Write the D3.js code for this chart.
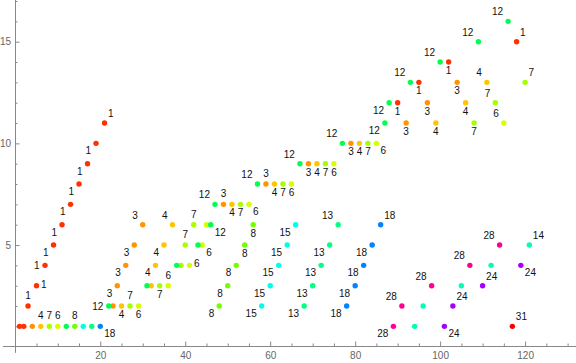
<!DOCTYPE html>
<html lang="en">
<head>
<meta charset="UTF-8" />
<title>Labeled points</title>
<script src="https://d3js.org/d3.v7.min.js"></script>
<style>
  body { margin: 0; background: #fff; }
  svg { display: block; font-family: 'Liberation Sans', Arial, sans-serif; }
  .tick text { fill: #666; font-size: 10px; }
  .tick line { stroke: #888; }
</style>
</head>
<body>
<div id="chart"></div>
<script>
// tick labels
const xTicks = [20, 40, 60, 80, 100, 120];
const yTicks = [5, 10, 15];

// each series: [x, y] points, and where its callout sits ("" = no callout)
const pts1 = [[1,1],[2,1],[3,2],[5,3],[7,4],[9,5],[11,6],[13,7],[15,8],[17,9],[19,10],[21,11],[90,12],[95,13],[102,14],[118,15]];
const at1  = ["","","n","e","w","sw","sw","sw","sw","sw","sw","ne","s","s","s","ne"];

const pts3 = [[4,1],[23,2],[24,3],[26,4],[28,5],[30,6],[49,7],[59,8],[69,9],[79,10],[92,11],[97,12],[104,13]];
const at3  = ["","","sw","sw","sw","nw","n","n","s","s","s","s","s"];

const pts4 = [[6,1],[25,2],[32,3],[33,4],[35,5],[37,6],[51,7],[61,8],[71,9],[81,10],[99,11],[106,12],[111,13]];
const at4  = ["n","s","","sw","sw","nw","s","s","s","s","s","s","nw"];

const pts7 = [[8,1],[27,2],[34,3],[39,4],[40,5],[42,6],[53,7],[63,8],[73,9],[83,10],[108,11],[113,12],[120,13]];
const at7  = ["n","n","s","","n","n","s","s","s","s","s","nw","ne"];

const pts6 = [[10,1],[29,2],[36,3],[41,4],[44,5],[45,6],[55,7],[65,8],[75,9],[85,10],[115,11]];
const at6  = ["n","s","n","e","se","","se","s","s","se","nw"];

const pts12 = [[12,1],[22,2],[31,3],[38,4],[43,5],[46,6],[47,7],[57,8],[67,9],[77,10],[87,11],[88,12],[93,13],[100,14],[109,15],[116,16]];
const at12  = ["","w","","","","se","nw","nw","nw","nw","sw","sw","nw","nw","nw","nw"];

const pts8 = [[14,1],[48,2],[50,3],[52,4],[54,5],[56,6]];
const at8  = ["n","sw","sw","sw","s","s"];

const pts15 = [[16,1],[58,2],[60,3],[62,4],[64,5],[66,6]];
const at15  = ["","sw","sw","sw","sw","sw"];

const pts13 = [[18,1],[68,2],[70,3],[72,4],[74,5],[76,6]];
const at13  = ["","sw","sw","sw","sw","nw"];

const pts18 = [[20,1],[78,2],[80,3],[82,4],[84,5],[86,6]];
const at18  = ["se","sw","sw","sw","sw","ne"];

const pts28 = [[89,1],[91,2],[98,3],[107,4],[114,5]];
const at28  = ["sw","nw","nw","nw","nw"];

const pts14 = [[94,1],[96,2],[105,3],[112,4],[121,5]];
const at14  = ["","","","","ne"];

const pts24 = [[101,1],[103,2],[110,3],[119,4]];
const at24  = ["se","ne","ne","se"];

const pts31 = [[117,1]];
const at31  = ["ne"];

const seriesLabels = [1, 3, 4, 7, 6, 12, 8, 15, 13, 18, 28, 14, 24, 31];
const seriesPts = [pts1, pts3, pts4, pts7, pts6, pts12, pts8, pts15, pts13, pts18, pts28, pts14, pts24, pts31];
const seriesAt = [at1, at3, at4, at7, at6, at12, at8, at15, at13, at18, at28, at14, at24, at31];

// flat table for drawing
const points = [];
seriesLabels.forEach((lab, i) => {
  seriesPts[i].forEach((p, j) => {
    points.push({ x: p[0], y: p[1], label: lab, at: seriesAt[i][j] });
  });
});

const width = 576, height = 363;

const svg = d3.select("#chart")
  .append("svg")
  .attr("width", width)
  .attr("height", height);

const x = d3.scaleLinear().domain([0, 120]).range([15.3, 525.1]);
const y = d3.scaleLinear().domain([0, 15]).range([346.7, 41.7]);

// colour from label, hue = label / 31
const color = lab => d3.hsl(lab / 31 * 360, 1, 0.5).toString();

const ax = Math.round(x(0));   // y axis pixel column
const ay = Math.floor(y(0));   // x axis pixel row

// axis lines span the plot range
svg.append("line")
  .attr("x1", x(-2.9)).attr("x2", x(132))
  .attr("y1", ay + 0.5).attr("y2", ay + 0.5)
  .attr("stroke", "#888");
svg.append("line")
  .attr("x1", ax + 0.5).attr("x2", ax + 0.5)
  .attr("y1", y(-0.3)).attr("y2", y(17.2))
  .attr("stroke", "#888");

const xMinor = d3.range(5, 135, 5).filter(v => v % 20 !== 0);
const yMinor = d3.range(1, 18).filter(v => v % 5 !== 0);

const gx = svg.append("g").attr("transform", `translate(0,${ay})`);
gx.call(d3.axisBottom(x).tickValues(xTicks).tickSize(-4.5).tickPadding(6));
gx.append("g").call(d3.axisBottom(x).tickValues(xMinor).tickSize(-2.5).tickFormat(""));
gx.selectAll(".domain").remove();

const gy = svg.append("g").attr("transform", `translate(${ax},0)`);
gy.call(d3.axisLeft(y).tickValues(yTicks).tickSize(-4.5).tickPadding(4));
gy.append("g").call(d3.axisLeft(y).tickValues(yMinor).tickSize(-2.5).tickFormat(""));
gy.selectAll(".domain").remove();
svg.selectAll(".tick text").attr("font-family", null).attr("font-size", null);

// points
svg.append("g")
  .selectAll("circle")
  .data(points)
  .join("circle")
  .attr("cx", d => x(d.x))
  .attr("cy", d => y(d.y))
  .attr("r", 2.7)
  .attr("fill", d => color(d.label));

// callout placement around a point
const spot = {
  n:  { dx: 0,    dy: -10.5, anchor: "middle" },
  s:  { dx: 0,    dy: 8.5,   anchor: "middle" },
  e:  { dx: 4.5,  dy: -1.5,  anchor: "start" },
  w:  { dx: -5.5, dy: 0,     anchor: "end" },
  ne: { dx: 3.5,  dy: -9.5,  anchor: "start" },
  nw: { dx: -5,   dy: -9.5,  anchor: "end" },
  se: { dx: 4,    dy: 7.5,   anchor: "start" },
  sw: { dx: -5,   dy: 7.5,   anchor: "end" }
};

svg.append("g")
  .selectAll("text")
  .data(points.filter(d => d.at))
  .join("text")
  .attr("x", d => x(d.x) + spot[d.at].dx)
  .attr("y", d => y(d.y) + spot[d.at].dy)
  .attr("dy", "0.35em")
  .attr("text-anchor", d => spot[d.at].anchor)
  .attr("font-size", 10)
  .attr("fill", "#111")
  .text(d => d.label);
</script>
</body>
</html>
